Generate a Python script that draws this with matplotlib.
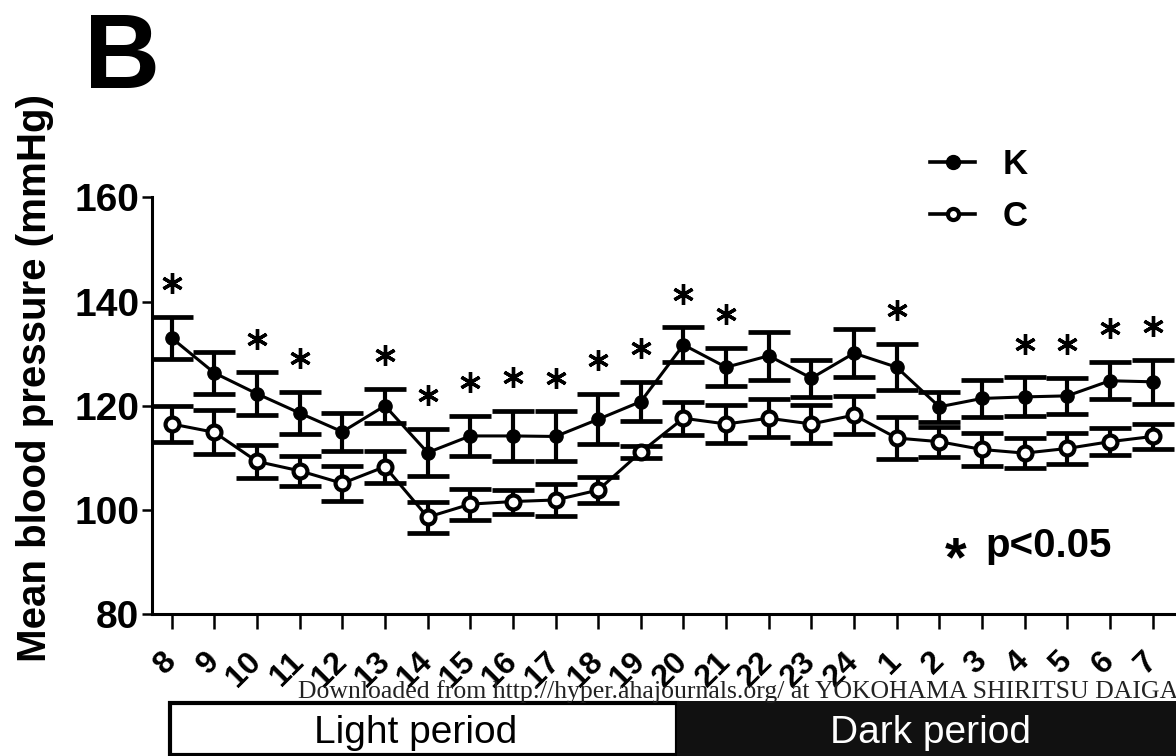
import matplotlib
matplotlib.use("Agg")
import matplotlib.pyplot as plt
from matplotlib.lines import Line2D
from matplotlib.patches import Rectangle

# ---------------- data ----------------
hours = ['8', '9', '10', '11', '12', '13', '14', '15', '16', '17', '18', '19',
         '20', '21', '22', '23', '24', '1', '2', '3', '4', '5', '6', '7']
K_mean = [133.0, 126.3, 122.3, 118.6, 115.0, 120.0, 111.0, 114.2, 114.2, 114.1, 117.4, 120.8,
          131.7, 127.4, 129.6, 125.3, 130.1, 127.4, 119.8, 121.4, 121.7, 121.9, 124.8, 124.6]
K_sem = [4.0, 4.1, 4.1, 4.1, 3.6, 3.3, 4.5, 3.9, 4.8, 4.8, 4.8, 3.8,
         3.35, 3.65, 4.65, 3.55, 4.65, 4.4, 2.9, 3.5, 3.75, 3.5, 3.55, 4.25]
C_mean = [116.5, 114.9, 109.3, 107.5, 105.1, 108.3, 98.6, 101.1, 101.6, 101.9, 103.8, 111.1,
          117.6, 116.5, 117.6, 116.5, 118.2, 113.8, 113.1, 111.6, 110.9, 111.8, 113.1, 114.1]
C_sem = [3.45, 4.2, 3.2, 2.9, 3.35, 3.05, 3.0, 3.0, 2.3, 3.1, 2.55, 1.2,
         3.2, 3.65, 3.65, 3.65, 3.65, 4.0, 2.85, 3.1, 2.85, 2.9, 2.55, 2.35]
significant = [True, False, True, True, False, True, True, True, True, True, True, True,
               True, True, False, False, False, True, False, False, True, True, True, True]
yticks = [80, 100, 120, 140, 160]
star_gap = 6.5

FONT = 'Liberation Sans'
plt.rcParams['font.family'] = [FONT, 'DejaVu Sans']

W, H = 1176, 756
fig = plt.figure(figsize=(W / 100, H / 100), dpi=100)
fig.patch.set_facecolor('white')

ax = fig.add_axes([151.7 / W, (H - 614) / H, (W - 151.7) / W, (614 - 197.5) / H])
x = list(range(len(hours)))

# C series (open circles)
ax.errorbar(x, C_mean, yerr=C_sem, fmt='none', ecolor='black', elinewidth=3.0,
            capsize=15, capthick=3.4, zorder=2)
ax.plot(x, C_mean, color='black', lw=2.2, marker='o', ms=10, mfc='white',
        mec='black', mew=3, zorder=4)

# K series (filled circles)
ax.errorbar(x, K_mean, yerr=K_sem, fmt='none', ecolor='black', elinewidth=3.0,
            capsize=15, capthick=3.4, zorder=2)
ax.plot(x, K_mean, color='black', lw=2.2, marker='o', ms=9.5, mfc='black',
        mec='black', mew=1, zorder=4)

# significance stars
sx = [xi for xi, s in zip(x, significant) if s]
sy = [k + e + star_gap for k, e, s in zip(K_mean, K_sem, significant) if s]
ax.plot(sx, sy, linestyle='none', marker=(6, 2, 0), ms=15, mew=2.4, color='black',
        clip_on=False, zorder=5)

ax.set_xlim(-0.47, 23.55)
ax.set_ylim(80, 160)
ax.set_yticks(yticks)
ax.set_yticklabels([str(v) for v in yticks], fontsize=28, fontweight='bold', family=FONT)
ax.set_xticks(x)
ax.set_xticklabels(hours, fontsize=23, fontweight='bold', family=FONT)
for lab in ax.get_xticklabels():
    lab.set_rotation(45)
    lab.set_ha('right')
    lab.set_va('center')
    lab.set_rotation_mode('anchor')
ax.tick_params(axis='x', length=11, width=1.8, pad=20, direction='out')
ax.tick_params(axis='y', length=7, width=1.8, pad=2, direction='out')
for s in ['top', 'right']:
    ax.spines[s].set_visible(False)
for s in ['left', 'bottom']:
    ax.spines[s].set_linewidth(2.2)

# y label
fig.text(35 / W, (H - 378.5) / H, 'Mean blood pressure (mmHg)', rotation=90,
         ha='center', va='center', fontsize=29, fontweight='bold')

# panel letter
fig.text(84 / W, (H - 88) / H, 'B', fontsize=76, fontweight='bold', va='baseline')

# legend
handles = [Line2D([], [], color='black', lw=2.6, marker='o', ms=10, mfc='black', mec='black'),
           Line2D([], [], color='black', lw=2.6, marker='o', ms=8, mfc='white', mec='black', mew=3)]
ax.legend(handles, ['K', 'C'], loc='upper left', bbox_to_anchor=(930 / W, (H - 148) / H),
          bbox_transform=fig.transFigure, frameon=False, borderpad=0, borderaxespad=0,
          handlelength=1.3, handletextpad=0.8, labelspacing=0.54,
          prop={'family': FONT, 'weight': 'bold', 'size': 25})

# p-value note
fig.text(985 / W, (H - 557) / H, 'p<0.05', fontsize=29, fontweight='bold', va='baseline')
fig.text(956 / W, (H - 575) / H, '*', fontsize=40, fontweight='bold', va='baseline', ha='center')

# watermark
fig.text(298 / W, (H - 698) / H,
         'Downloaded from http://hyper.ahajournals.org/ at YOKOHAMA SHIRITSU DAIGAKU',
         fontsize=18.5, family=['Liberation Serif', 'DejaVu Serif'], va='baseline', color='#222222')

# light / dark bar
bar = fig.add_axes([168 / W, 0, (W - 168) / W, (H - 701) / H])
bar.set_xlim(168, W)
bar.set_ylim(0, H - 701)
bar.axis('off')
bar.add_patch(Rectangle((169.5, 1.5), 677 - 169.5, H - 701 - 3, facecolor='white',
                        edgecolor='black', lw=3, clip_on=False))
bar.add_patch(Rectangle((677, 0), W - 677, H - 701, facecolor='#111111',
                        edgecolor='none', clip_on=False))
fig.text(415.5 / W, (H - 743) / H, 'Light period', fontsize=28, ha='center', va='baseline',
         color='black')
fig.text(931 / W, (H - 743) / H, 'Dark period', fontsize=28, ha='center', va='baseline',
         color='white')

fig.savefig('out.png', dpi=100)
